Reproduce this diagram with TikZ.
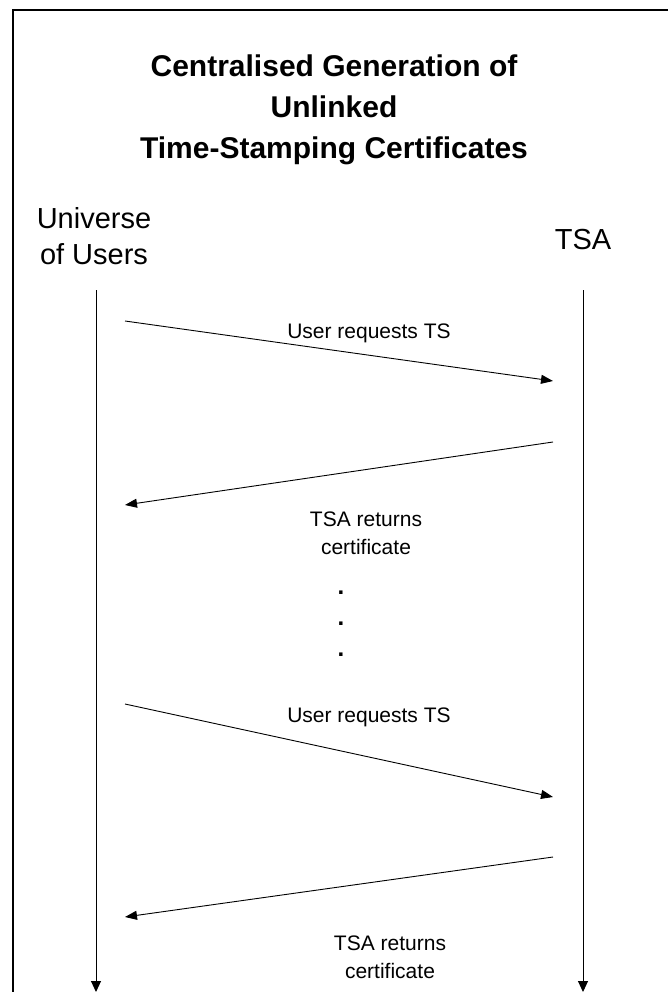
\documentclass[tikz,border=0pt]{standalone}
\usepackage{fontspec}
\setmainfont{Liberation Sans}
\usetikzlibrary{arrows.meta}
\begin{document}
\begin{tikzpicture}[x=1pt,y=-1pt,
  frameline/.style={line width=2.2pt},
  lifeline/.style={line width=1pt,-{Triangle[length=11pt,width=10pt]}},
  msg/.style={line width=0.9pt,-{Triangle[length=12pt,width=9pt]}},
  titletext/.style={align=center,font=\fontsize{30}{41}\selectfont\bfseries},
  actor/.style={align=center,font=\fontsize{29}{36}\selectfont},
  msglabel/.style={align=center,font=\fontsize{21}{28}\selectfont},
  dot/.style={font=\fontsize{24}{24}\selectfont\bfseries,inner sep=0pt}]
\useasboundingbox (0,0) rectangle (668,992);
\clip (0,0) rectangle (668,992);
% outer frame, running off the right and bottom edges
\draw[frameline] (13,10) rectangle (720,1040);

% title
\node[titletext] (title) at (334,110) {Centralised Generation of\\Unlinked\\Time-Stamping Certificates};

% actors
\node[actor] (users) at (94,236) {Universe\\of Users};
\node[actor] (tsa) at (583,240) {TSA};

% lifelines
\coordinate (uTop) at (96,290);
\coordinate (uEnd) at (96,992);
\coordinate (tTop) at (583,290);
\coordinate (tEnd) at (583,992);
\draw[lifeline] (uTop) -- (uEnd);
\draw[lifeline] (tTop) -- (tEnd);

% message end points
\coordinate (m1a) at (125,321);  \coordinate (m1b) at (553,381);
\coordinate (m2a) at (553,442);  \coordinate (m2b) at (125,505);
\coordinate (m3a) at (125,704);  \coordinate (m3b) at (553,797);
\coordinate (m4a) at (553,857);  \coordinate (m4b) at (125,917);

\draw[msg] (m1a) -- (m1b);
\draw[msg] (m2a) -- (m2b);
\draw[msg] (m3a) -- (m3b);
\draw[msg] (m4a) -- (m4b);

% message labels
\node[msglabel] (l1) at (369,333) {User requests TS};
\node[msglabel] (l2) at (366,533) {TSA returns\\certificate};
\node[msglabel] (l3) at (369,717) {User requests TS};
\node[msglabel] (l4) at (390,957) {TSA returns\\certificate};

% ellipsis between exchanges
\node[dot] (d1) at (341,593) {.};
\node[dot] (d2) at (341,624) {.};
\node[dot] (d3) at (341,655) {.};
\end{tikzpicture}
\end{document}
